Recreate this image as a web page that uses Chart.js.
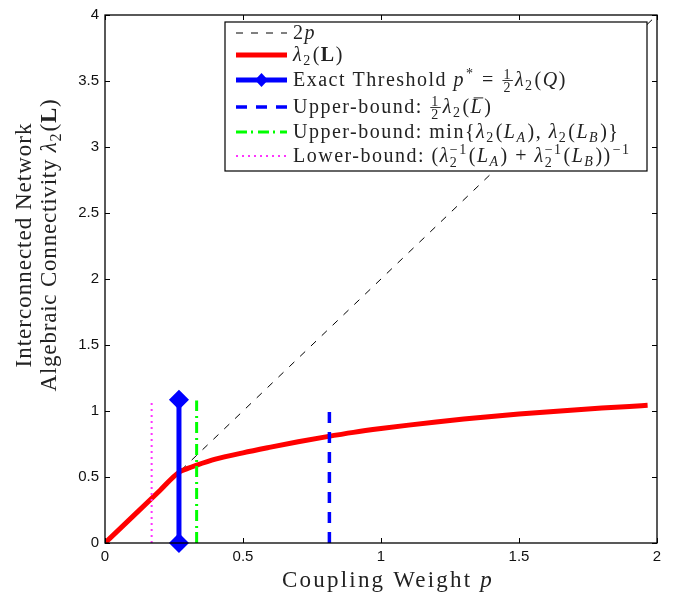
<!DOCTYPE html>
<html lang="en">
<head>
<meta charset="UTF-8">
<title>Algebraic connectivity vs coupling weight</title>
<script src="https://cdn.jsdelivr.net/npm/chart.js"></script>
<style>
  body { margin: 0; background: #fff; }
</style>
</head>
<body>
<canvas id="chart" width="682" height="595"></canvas>
<script>
  // values
  const pValues = [0, 0.1, 0.2, 0.268, 0.3, 0.33, 0.4, 0.5, 0.6, 0.7, 0.8, 0.9, 1.0, 1.1, 1.2, 1.3, 1.4, 1.5, 1.6, 1.7, 1.8, 1.9, 1.966];
  const lambda2Values = [0, 0.2, 0.4, 0.536, 0.565, 0.588, 0.635, 0.683, 0.726, 0.767, 0.804, 0.838, 0.867, 0.893, 0.917, 0.939, 0.959, 0.977, 0.993, 1.008, 1.022, 1.035, 1.043];
  const twoPx = [0, 2];
  const twoPy = [0, 4];
  const exactX = [0.268, 0.268];
  const exactY = [0, 1.085];
  const upperBarX = [0.813, 0.813];
  const upperBarY = [0, 1.03];
  const upperMinX = [0.332, 0.332];
  const upperMinY = [0, 1.08];
  const lowerX = [0.169, 0.169];
  const lowerY = [0, 1.08];
  const xTicks = [0, 0.5, 1, 1.5, 2];
  const yTicks = [0, 0.5, 1, 1.5, 2, 2.5, 3, 3.5, 4];

  const pts = (xs, ys) => xs.map((x, i) => ({ x: x, y: ys[i] }));

  // legend labels as rich text pieces
  const lam = [{ t: 'λ', it: 1 }, { sub: '2' }];
  const legendLabels = [
    [{ t: '2' }, { t: 'p', it: 1 }],
    [...lam, { t: '(' }, { t: 'L', b: 1 }, { t: ')' }],
    [{ t: 'Exact Threshold ' }, { t: 'p', it: 1 }, { sup: '*' }, { t: ' = ' }, { frac: ['1', '2'] }, ...lam, { t: '(' }, { t: 'Q', it: 1 }, { t: ')' }],
    [{ t: 'Upper-bound: ' }, { frac: ['1', '2'] }, ...lam, { t: '(' }, { bar: 'L' }, { t: ')' }],
    [{ t: 'Upper-bound: min{' }, ...lam, { t: '(' }, { t: 'L', it: 1 }, { sub: 'A', it: 1 }, { t: '), ' }, ...lam, { t: '(' }, { t: 'L', it: 1 }, { sub: 'B', it: 1 }, { t: ')}' }],
    [{ t: 'Lower-bound: (' }, { t: 'λ', it: 1 }, { ss: ['2', '−1'] }, { t: '(' }, { t: 'L', it: 1 }, { sub: 'A', it: 1 }, { t: ') + ' }, { t: 'λ', it: 1 }, { ss: ['2', '−1'] }, { t: '(' }, { t: 'L', it: 1 }, { sub: 'B', it: 1 }, { t: '))' }, { sup: '−1' }]
  ];
  const xTitle = [{ t: 'Coupling Weight ' }, { t: 'p', it: 1 }];
  const yTitle1 = [{ t: 'Interconnected Network' }];
  const yTitle2 = [{ t: 'Algebraic Connectivity ' }, ...lam, { t: '(' }, { t: 'L', b: 1 }, { t: ')' }];

  const SERIF = '"Liberation Serif", "Times New Roman", serif';
  function fnt(size, it, b) {
    return (it ? 'italic ' : '') + (b ? 'bold ' : '') + size + 'px ' + SERIF;
  }

  // draws (or just measures) a run of rich text, baseline at y
  function rich(ctx, segs, x, y, size, draw, spacing) {
    let cx = x;
    const s = size * 0.7;
    ctx.letterSpacing = (spacing || 0) + 'px';
    segs.forEach(seg => {
      if (seg.t !== undefined) {
        ctx.font = fnt(size, seg.it, seg.b);
        if (draw) ctx.fillText(seg.t, cx, y);
        cx += ctx.measureText(seg.t).width;
      } else if (seg.sub !== undefined) {
        ctx.font = fnt(s, seg.it);
        if (draw) ctx.fillText(seg.sub, cx, y + size * 0.22);
        cx += ctx.measureText(seg.sub).width + 1;
      } else if (seg.sup !== undefined) {
        ctx.font = fnt(s, seg.it);
        if (draw) ctx.fillText(seg.sup, cx + 1, y - size * 0.4);
        cx += ctx.measureText(seg.sup).width + 2;
      } else if (seg.ss) {
        ctx.font = fnt(s);
        const w1 = ctx.measureText(seg.ss[0]).width, w2 = ctx.measureText(seg.ss[1]).width;
        if (draw) {
          ctx.fillText(seg.ss[0], cx, y + size * 0.25);
          ctx.fillText(seg.ss[1], cx, y - size * 0.4);
        }
        cx += Math.max(w1, w2) + 1;
      } else if (seg.frac) {
        ctx.font = fnt(s);
        const w = Math.max(ctx.measureText(seg.frac[0]).width, ctx.measureText(seg.frac[1]).width) + 2;
        if (draw) {
          ctx.textAlign = 'center';
          ctx.fillText(seg.frac[0], cx + 1 + w / 2, y - size * 0.36);
          ctx.fillText(seg.frac[1], cx + 1 + w / 2, y + size * 0.3);
          ctx.textAlign = 'left';
          ctx.fillRect(cx + 1, y - size * 0.3, w, 0.9);
        }
        cx += w + 3;
      } else if (seg.bar) {
        ctx.font = fnt(size, 1);
        const w = ctx.measureText(seg.bar).width;
        if (draw) {
          ctx.fillText(seg.bar, cx, y);
          ctx.fillRect(cx + 3, y - size * 0.78, w - 3, 1);
        }
        cx += w + 1;
      }
    });
    ctx.letterSpacing = '0px';
    return cx - x;
  }

  const datasets = [
    { label: '2p', data: pts(twoPx, twoPy), borderColor: '#000', borderWidth: 1, borderDash: [7, 8], order: 3 },
    { label: 'lambda2(L)', data: pts(pValues, lambda2Values), borderColor: '#ff0000', borderWidth: 5, order: 2, cubicInterpolationMode: 'monotone' },
    { label: 'Exact Threshold', data: pts(exactX, exactY), borderColor: '#0000ff', borderWidth: 5, order: 0,
      pointRadius: 6.5, pointStyle: 'rectRot', pointBackgroundColor: '#0000ff', pointBorderColor: '#0000ff', clip: false },
    { label: 'Upper-bound bar', data: pts(upperBarX, upperBarY), borderColor: '#0000ff', borderWidth: 3.5, borderDash: [11, 9], order: 1 },
    { label: 'Upper-bound min', data: pts(upperMinX, upperMinY), borderColor: '#00ff00', borderWidth: 3, borderDash: [11, 4, 2, 5], order: 1 },
    { label: 'Lower-bound', data: pts(lowerX, lowerY), borderColor: '#ff33ff', borderWidth: 2, borderDash: [2, 4], order: 1 }
  ];
  datasets.forEach(d => {
    d.showLine = true;
    d.fill = false;
    if (d.pointRadius === undefined) d.pointRadius = 0;
  });

  const decor = {
    id: 'decor',
    afterDatasetsDraw(chart) {
      const { ctx, chartArea: a, scales } = chart;
      const sx = scales.x, sy = scales.y;
      ctx.save();
      // axes box with inward ticks
      ctx.strokeStyle = '#000';
      ctx.lineWidth = 1.3;
      ctx.strokeRect(a.left, a.top, a.right - a.left, a.bottom - a.top);
      ctx.lineWidth = 1;
      ctx.beginPath();
      xTicks.forEach(v => {
        const px = Math.round(sx.getPixelForValue(v)) + 0.5;
        ctx.moveTo(px, a.bottom); ctx.lineTo(px, a.bottom - 5);
        ctx.moveTo(px, a.top); ctx.lineTo(px, a.top + 5);
      });
      yTicks.forEach(v => {
        const py = Math.round(sy.getPixelForValue(v)) + 0.5;
        ctx.moveTo(a.left, py); ctx.lineTo(a.left + 5, py);
        ctx.moveTo(a.right, py); ctx.lineTo(a.right - 5, py);
      });
      ctx.stroke();

      // legend box
      const L = { l: 225, t: 22, r: 647, b: 171 };
      ctx.fillStyle = '#fff';
      ctx.fillRect(L.l, L.t, L.r - L.l, L.b - L.t);
      ctx.strokeStyle = '#000';
      ctx.lineWidth = 1.2;
      ctx.strokeRect(L.l, L.t, L.r - L.l, L.b - L.t);
      const rows = [33, 55, 80, 107, 132, 156];
      legendLabels.forEach((segs, i) => {
        const d = datasets[i];
        const yc = rows[i];
        ctx.save();
        ctx.strokeStyle = d.borderColor;
        ctx.lineWidth = d.borderWidth;
        ctx.setLineDash(d.borderDash || []);
        ctx.beginPath();
        ctx.moveTo(236, yc); ctx.lineTo(287, yc);
        ctx.stroke();
        if (d.pointStyle) {
          ctx.setLineDash([]);
          ctx.fillStyle = d.borderColor;
          ctx.beginPath();
          ctx.moveTo(261.5, yc - 7); ctx.lineTo(268, yc); ctx.lineTo(261.5, yc + 7); ctx.lineTo(255, yc);
          ctx.closePath(); ctx.fill();
        }
        ctx.restore();
        ctx.fillStyle = '#222';
        ctx.textAlign = 'left';
        ctx.textBaseline = 'alphabetic';
        rich(ctx, segs, 293, yc + 6, 20, true, 1.5);
      });

      // axis titles
      ctx.fillStyle = '#222';
      const wx = rich(ctx, xTitle, 0, 0, 23, false, 2.2);
      rich(ctx, xTitle, 388 - wx / 2, 587, 23, true, 2.2);
      ctx.translate(0, 245);
      ctx.rotate(-Math.PI / 2);
      const w1 = rich(ctx, yTitle1, 0, 0, 23, false, 1);
      rich(ctx, yTitle1, -w1 / 2, 31, 23, true, 1);
      const w2 = rich(ctx, yTitle2, 0, 0, 23, false, 0.8);
      rich(ctx, yTitle2, -w2 / 2, 56, 23, true, 0.8);
      ctx.restore();
    }
  };

  const tickFont = { family: '"Liberation Sans", Arial, sans-serif', size: 15 };
  const tickLabel = v => String(+v.toFixed(2));

  new Chart(document.getElementById('chart').getContext('2d'), {
    type: 'scatter',
    data: { datasets: datasets },
    options: {
      responsive: false,
      animation: false,
      layout: { padding: { top: 13, right: 25, bottom: 0, left: 0 } },
      plugins: { legend: { display: false }, tooltip: { enabled: false } },
      scales: {
        x: {
          type: 'linear', min: 0, max: 2,
          grid: { display: false, drawTicks: false },
          border: { display: false },
          ticks: { stepSize: 0.5, font: tickFont, color: '#111', padding: 5, callback: tickLabel },
          afterFit: s => { s.height = 52; }
        },
        y: {
          type: 'linear', min: 0, max: 4,
          grid: { display: false, drawTicks: false },
          border: { display: false },
          ticks: { stepSize: 0.5, font: tickFont, color: '#111', padding: 6, callback: tickLabel },
          afterFit: s => { s.width = 105; }
        }
      }
    },
    plugins: [decor]
  });
</script>
</body>
</html>
